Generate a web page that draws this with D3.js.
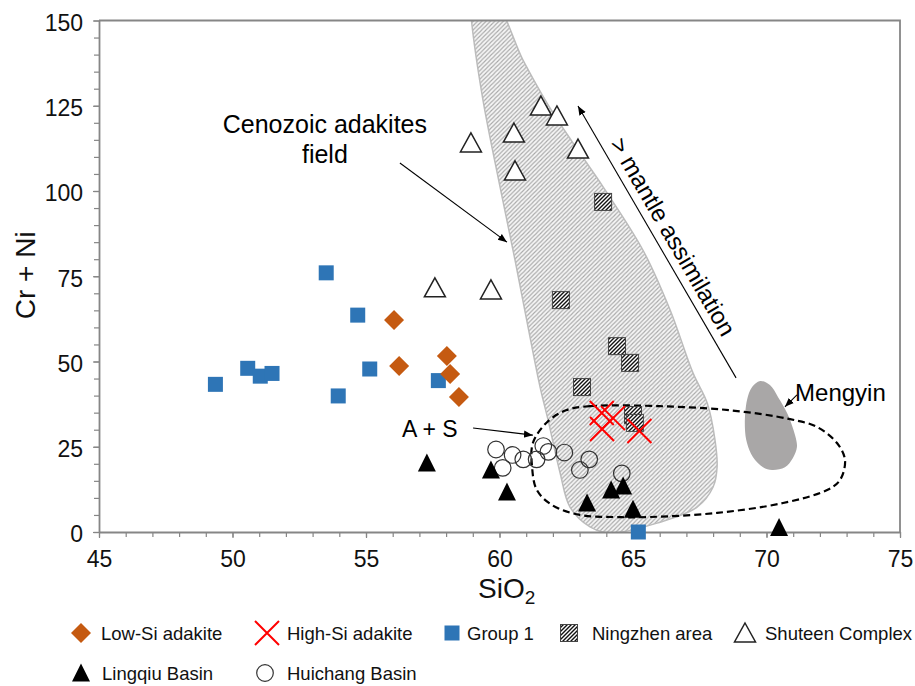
<!DOCTYPE html>
<html>
<head>
<meta charset="utf-8">
<script src="https://cdn.jsdelivr.net/npm/d3@7"></script>
<style>
  html, body { margin: 0; padding: 0; background: #fff; }
  svg { display: block; font-family: "Liberation Sans", Arial, sans-serif; }
</style>
</head>
<body>
<svg id="chart" width="915" height="686"></svg>
<script>
// ---- Sample data: [SiO2 wt.%, Cr + Ni ppm] ----
const lowSiAdakite = [[56.05, 62.2], [56.24, 48.7], [58.03, 51.6], [58.15, 46.3], [58.48, 39.6]];
const highSiAdakite = [[63.83, 34.9], [64.25, 33.4], [63.84, 30.2], [65.24, 29.6]];
const group1 = [[49.36, 43.3], [50.57, 48.0], [51.04, 45.7], [51.48, 46.5], [53.51, 76.0],
                [54.69, 63.6], [55.14, 47.8], [53.96, 39.9], [57.71, 44.4], [65.2, 0]];
const ningzhenArea = [[63.88, 96.8], [62.3, 68.0], [64.4, 54.5], [64.89, 49.6], [63.09, 42.5],
                      [65.0, 34.3], [65.07, 32.0]];
const shuteenComplex = [[58.93, 114.1], [60.54, 117.0], [60.58, 105.9], [61.55, 124.9], [62.15, 122.0],
                        [62.94, 112.3], [57.58, 71.6], [59.68, 71.0]];
const lingqiuBasin = [[57.28, 20.2], [59.68, 18.2], [60.28, 11.7], [63.28, 8.5], [64.18, 12.3],
                      [64.63, 13.5], [65.0, 6.7], [70.47, 1.3]];
const huichangBasin = [[59.87, 24.2], [60.49, 22.6], [60.12, 18.8], [60.89, 21.3], [61.39, 21.3],
                       [61.64, 25.2], [61.83, 23.5], [62.43, 23.3], [63.36, 21.3], [63.01, 18.2], [64.58, 17.2]];

// ---- Reference fields (outlines in SiO2 / Cr+Ni units) ----
const cenozoicAdakiteField = [[58.9, 156], [59.76, 156], [60.88, 138.4], [61.78, 125.8], [62.75, 114.1],
  [63.88, 101.2], [65.37, 82.7], [66.39, 65.1], [67.25, 46.6], [67.78, 37.8], [68.07, 27.0], [68.15, 19.1],
  [68.0, 13.2], [67.4, 7.3], [65.9, 2.6], [64.14, -0.3], [63.39, 1.5], [62.64, 7.3], [62.27, 17.3],
  [61.82, 32.8], [61.52, 42.5], [61.07, 60.1], [60.58, 79.8], [60.02, 101.2], [59.38, 126.7], [58.95, 150]];
const assimilationField = [[62.49, 35.7], [63.39, 36.9], [66.01, 36.9], [68.63, 35.7], [70.88, 33.1],
  [71.89, 30.8], [72.64, 26.1], [72.94, 21.1], [72.75, 15.2], [72.27, 12.3], [70.62, 8.5], [68.15, 5.6],
  [65.64, 4.4], [64.25, 4.4], [63.01, 5.0], [61.97, 7.9], [61.4, 12.3], [61.22, 19.1], [61.25, 26.1], [61.78, 32.2]];
const mengyinField = [[69.76, 44.3], [70.13, 43.1], [70.43, 39.6], [70.77, 34.9], [71.07, 28.4], [71.14, 24.9],
  [70.99, 21.7], [70.69, 19.0], [70.21, 18.2], [69.87, 19.0], [69.49, 22.0], [69.27, 26.1], [69.19, 30.8],
  [69.27, 38.7], [69.46, 42.5]];

// ---- Axis ticks ----
const xMajorTicks = [45, 50, 55, 60, 65, 70, 75];
const yMajorTicks = [0, 25, 50, 75, 100, 125, 150];
const xMinorTicks = d3.range(45, 76, 1);
const yMinorTicks = d3.range(0, 151, 5);

// ---- Legend ----
const legendItems = [
  { label: "Low-Si adakite", type: "diamond" },
  { label: "High-Si adakite", type: "cross" },
  { label: "Group 1", type: "square" },
  { label: "Ningzhen area", type: "hatchSquare" },
  { label: "Shuteen Complex", type: "openTri" },
  { label: "Lingqiu Basin", type: "filledTri" },
  { label: "Huichang Basin", type: "circle" }
];

const svg = d3.select("#chart");
const x = d3.scaleLinear().domain([45, 75]).range([99, 900]);
const y = d3.scaleLinear().domain([0, 150]).range([532, 20.5]);

const defs = svg.append("defs");
// light diagonal hatch for the adakite field
const fieldPat = defs.append("pattern").attr("id", "fieldHatch")
  .attr("patternUnits", "userSpaceOnUse").attr("width", 4.3).attr("height", 4.3);
fieldPat.append("rect").attr("width", 4.3).attr("height", 4.3).attr("fill", "#f6f6f6");
fieldPat.append("path").attr("d", "M-1,1 L1,-1 M0,4.3 L4.3,0 M3.3,5.3 L5.3,3.3")
  .attr("stroke", "#a8a8a8").attr("stroke-width", 1.1);
// dark diagonal hatch for the Ningzhen squares
const sqPat = defs.append("pattern").attr("id", "sqHatch")
  .attr("patternUnits", "userSpaceOnUse").attr("width", 4).attr("height", 4);
sqPat.append("rect").attr("width", 4).attr("height", 4).attr("fill", "#fff");
sqPat.append("path").attr("d", "M-1,1 L1,-1 M0,4 L4,0 M3,5 L5,3")
  .attr("stroke", "#111").attr("stroke-width", 1.4);
defs.append("clipPath").attr("id", "plotClip").append("rect")
  .attr("x", 99).attr("y", 20.5).attr("width", 801).attr("height", 512);
defs.append("marker").attr("id", "arrowHead")
  .attr("viewBox", "0 0 10 10").attr("refX", 10).attr("refY", 5)
  .attr("markerWidth", 9).attr("markerHeight", 9).attr("markerUnits", "userSpaceOnUse")
  .attr("orient", "auto")
  .append("path").attr("d", "M0,1 L10,5 L0,9 Z").attr("fill", "#000");

// ---- Fields ----
const fields = svg.append("g").attr("clip-path", "url(#plotClip)");
const closed = d3.line().x(d => x(d[0])).y(d => y(d[1])).curve(d3.curveCatmullRomClosed.alpha(0.5));
fields.append("path").datum(cenozoicAdakiteField).attr("d", closed)
  .attr("fill", "url(#fieldHatch)").attr("stroke", "#bcbcbc").attr("stroke-width", 1.5);
fields.append("path").datum(mengyinField).attr("d", closed).attr("fill", "#a9a7a7");

// ---- Axes ----
const axisColor = "#868686";
const gx = svg.append("g").attr("transform", `translate(0,${y(0)})`);
gx.call(d3.axisBottom(x).tickValues(xMinorTicks).tickSize(5).tickFormat(""));
gx.call(g => g.selectAll("path.domain").remove());
const gxMaj = svg.append("g").attr("transform", `translate(0,${y(0)})`)
  .call(d3.axisBottom(x).tickValues(xMajorTicks).tickSize(6).tickSizeOuter(0).tickPadding(12));
const gy = svg.append("g").attr("transform", `translate(${x(45)},0)`);
gy.call(d3.axisLeft(y).tickValues(yMinorTicks).tickSize(5).tickFormat(""));
gy.call(g => g.selectAll("path.domain").remove());
const gyMaj = svg.append("g").attr("transform", `translate(${x(45)},0)`)
  .call(d3.axisLeft(y).tickValues(yMajorTicks).tickSize(6).tickSizeOuter(0).tickPadding(10));
svg.selectAll(".tick line").attr("stroke", axisColor).attr("stroke-width", 1.2);
svg.selectAll("path.domain").attr("stroke", axisColor).attr("stroke-width", 1.8);
gxMaj.selectAll("text").attr("font-size", 23).attr("fill", "#111")
  .attr("font-family", "Liberation Sans, Arial, sans-serif").attr("dy", "0.72em");
gyMaj.selectAll("text").attr("font-size", 23).attr("fill", "#111")
  .attr("font-family", "Liberation Sans, Arial, sans-serif").attr("dy", "0.43em");
// top and right frame
svg.append("path")
  .attr("d", `M${x(45)},${y(150)} H${x(75)} V${y(0)}`)
  .attr("fill", "none").attr("stroke", axisColor).attr("stroke-width", 1.8);

// axis titles
svg.append("text").attr("transform", `translate(35,${y(75) - 1}) rotate(-90)`)
  .attr("text-anchor", "middle").attr("font-size", 28).attr("fill", "#111").text("Cr + Ni");
const xt = svg.append("text").attr("x", 478).attr("y", 598).attr("font-size", 28).attr("fill", "#111");
xt.append("tspan").text("SiO");
xt.append("tspan").attr("font-size", 19).attr("dy", 6).text("2");

// ---- Dashed assimilation (A + S) field ----
svg.append("path").datum(assimilationField).attr("d", closed)
  .attr("fill", "none").attr("stroke", "#000").attr("stroke-width", 2.2)
  .attr("stroke-dasharray", "7,4");

// ---- Annotations ----
const annot = svg.append("g").attr("fill", "#000").attr("font-size", 24);
function arrow(from, to) {
  annot.append("line")
    .attr("x1", x(from[0])).attr("y1", y(from[1]))
    .attr("x2", x(to[0])).attr("y2", y(to[1]))
    .attr("stroke", "#000").attr("stroke-width", 1.1).attr("marker-end", "url(#arrowHead)");
}
arrow([56.27, 108.2], [60.28, 85.0]);
arrow([59.01, 30.5], [61.25, 28.4]);
arrow([71.14, 40.2], [70.69, 36.7]);
arrow([68.86, 45.2], [62.94, 124.9]);
annot.append("text").attr("x", x(53.46)).attr("y", y(116.9)).attr("text-anchor", "middle")
  .attr("font-size", 25).text("Cenozoic adakites");
annot.append("text").attr("x", x(53.46)).attr("y", y(108.1)).attr("text-anchor", "middle")
  .attr("font-size", 25).text("field");
annot.append("text").attr("x", x(56.35)).attr("y", y(27.8)).attr("font-size", 23).text("A + S");
annot.append("text").attr("x", x(71.07)).attr("y", y(38.4)).text("Mengyin");
{
  const p0 = [x(68.86), y(45.2)], p1 = [x(62.94), y(124.9)];
  const ang = Math.atan2(p0[1] - p1[1], p0[0] - p1[0]) * 180 / Math.PI;
  annot.append("text")
    .attr("transform", `translate(${x(66.5)},${y(86.6)}) rotate(${ang})`)
    .attr("text-anchor", "middle").attr("dy", "0.35em").text("> mantle assimilation");
}

// ---- Markers ----
function marker(g, type, cx, cy) {
  switch (type) {
    case "diamond":
      g.append("path").attr("d", `M${cx},${cy - 10}L${cx + 10},${cy}L${cx},${cy + 10}L${cx - 10},${cy}Z`)
        .attr("fill", "#c55a11");
      break;
    case "cross":
      g.append("path").attr("d", `M${cx - 12},${cy - 12}L${cx + 12},${cy + 12}M${cx - 12},${cy + 12}L${cx + 12},${cy - 12}`)
        .attr("stroke", "#ff0000").attr("stroke-width", 2);
      break;
    case "square":
      g.append("rect").attr("x", cx - 7.5).attr("y", cy - 7.5).attr("width", 15).attr("height", 15)
        .attr("fill", "#2e75b6");
      break;
    case "hatchSquare":
      g.append("rect").attr("x", cx - 8.5).attr("y", cy - 8.5).attr("width", 17).attr("height", 17)
        .attr("fill", "url(#sqHatch)").attr("stroke", "#444").attr("stroke-width", 1);
      break;
    case "openTri":
      g.append("path").attr("d", `M${cx},${cy - 10}L${cx + 10.5},${cy + 9}L${cx - 10.5},${cy + 9}Z`)
        .attr("fill", "#fff").attr("stroke", "#222").attr("stroke-width", 1.5);
      break;
    case "filledTri":
      g.append("path").attr("d", `M${cx},${cy - 9.5}L${cx + 9},${cy + 8.5}L${cx - 9},${cy + 8.5}Z`)
        .attr("fill", "#000");
      break;
    case "circle":
      g.append("circle").attr("cx", cx).attr("cy", cy).attr("r", 8.3)
        .attr("fill", "none").attr("stroke", "#333").attr("stroke-width", 1.2);
      break;
  }
}
const seriesList = [
  [group1, "square"], [lowSiAdakite, "diamond"], [shuteenComplex, "openTri"],
  [ningzhenArea, "hatchSquare"], [huichangBasin, "circle"], [lingqiuBasin, "filledTri"],
  [highSiAdakite, "cross"]
];
const pts = svg.append("g");
seriesList.forEach(([data, type]) => {
  const g = pts.append("g");
  data.forEach(d => marker(g, type, x(d[0]), y(d[1])));
});

// ---- Legend ----
const legendPos = [
  { mx: 81, tx: 101, y: 633 }, { mx: 267, tx: 287, y: 633 }, { mx: 452, tx: 467, y: 633 },
  { mx: 569, tx: 592, y: 633 }, { mx: 745, tx: 765, y: 633 },
  { mx: 81, tx: 102, y: 673 }, { mx: 265, tx: 287, y: 673 }
];
const lg = svg.append("g");
legendItems.forEach((item, i) => {
  const p = legendPos[i];
  const g = lg.append("g");
  marker(g, item.type, p.mx, p.y);
  g.append("text").attr("x", p.tx).attr("y", p.y).attr("dy", "0.36em")
    .attr("font-size", 18.5).attr("fill", "#111").text(item.label);
});
</script>
</body>
</html>
